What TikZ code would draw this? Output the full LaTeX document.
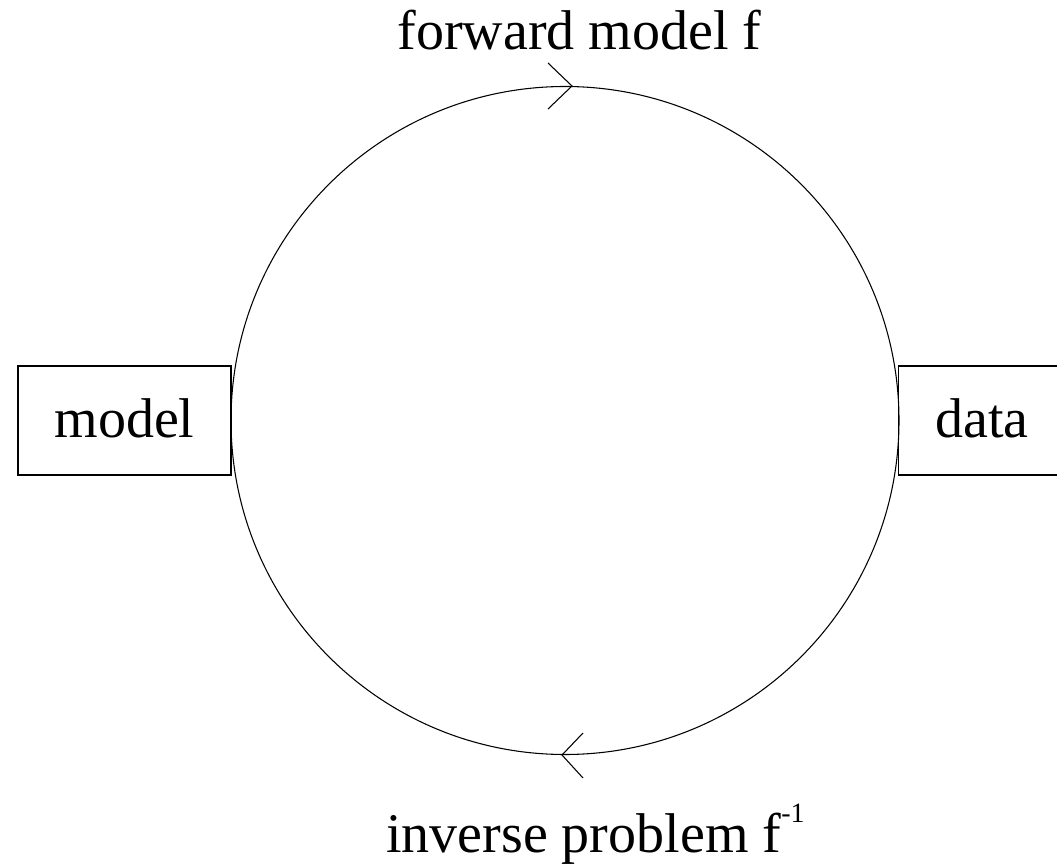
\documentclass[tikz,border=0pt]{standalone}
\usepackage{fontspec}
\setmainfont{Liberation Serif}
\begin{document}
\begin{tikzpicture}[x=0.75pt,y=-0.75pt,
  lbl/.style={font=\fontsize{42pt}{48pt}\selectfont, inner sep=0pt},
  boxnode/.style={draw, line width=1pt, rectangle, inner sep=0pt,
    minimum width=159.75pt, minimum height=81.75pt,
    text height=28.5pt, text depth=3.75pt,
    font=\fontsize{42pt}{48pt}\selectfont},
  loopline/.style={line width=0.8pt},
  barb/.style={line width=0.8pt}]
\useasboundingbox (0,0) rectangle (1057,866);
\clip (0,0) rectangle (1057,866);
% cycle
\node[circle, draw, loopline, minimum size=501pt, inner sep=0pt] (loop) at (565,420.5) {};
% boxes
\node[boxnode] (model) at (124.5,420.5) {model};
\node[boxnode, anchor=west] (data) at (898,420.5) {};
\node[lbl, anchor=base] (datatext) at (982,437) {data};
% arrowheads on the cycle
\coordinate (toptip) at (572,86);
\coordinate (bottip) at (562,755);
\draw[barb] ([shift={(-24,-23)}]toptip) -- (toptip) -- ([shift={(-24,23)}]toptip);
\draw[barb] ([shift={(21,-22)}]bottip) -- (bottip) -- ([shift={(21,23)}]bottip);
% labels
\node[lbl, anchor=base] (fwd) at (579.5,50) {forward model f};
\node[lbl, anchor=base west] (inv) at (386,852) {inverse problem f\raisebox{22pt}{\fontsize{21pt}{24pt}\selectfont -1}};
\end{tikzpicture}
\end{document}
